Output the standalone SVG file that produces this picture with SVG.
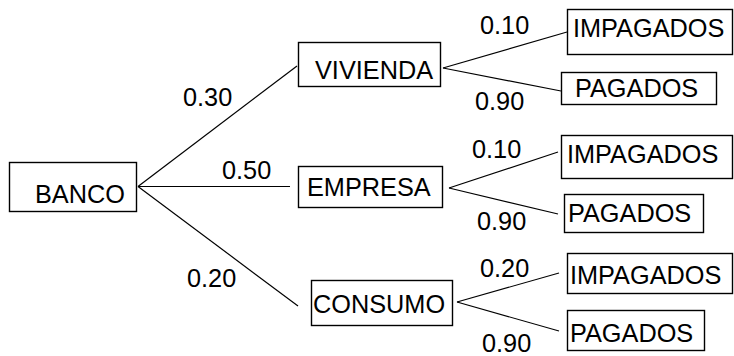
<svg xmlns="http://www.w3.org/2000/svg" width="734" height="356" viewBox="0 0 734 356">
<style>
rect{fill:#fff;stroke:#000;stroke-width:1.4}
text{font-family:"Liberation Sans",Arial,sans-serif;font-size:25.3px;fill:#000}
.c line{stroke:#000;stroke-width:1.2}
</style>
<rect x="0" y="0" width="734" height="356" fill="#fff" style="stroke:none"/>
<g class="c" id="connectors">
<line x1="138" y1="186.5" x2="297" y2="66"/>
<line x1="138" y1="186.5" x2="290" y2="186.5"/>
<line x1="138" y1="186.5" x2="298" y2="306"/>
<line x1="443" y1="68" x2="567" y2="32"/>
<line x1="443" y1="68" x2="561" y2="91"/>
<line x1="449" y1="188" x2="558" y2="152"/>
<line x1="449" y1="188" x2="558" y2="214"/>
<line x1="457" y1="302" x2="559" y2="273"/>
<line x1="457" y1="302" x2="559" y2="331"/>
</g>
<g id="labels">
<text x="183" y="106">0.30</text>
<text x="222" y="179">0.50</text>
<text x="187" y="287">0.20</text>
<text x="480" y="34">0.10</text>
<text x="475" y="110">0.90</text>
<text x="472" y="158">0.10</text>
<text x="477" y="230">0.90</text>
<text x="480" y="277">0.20</text>
<text x="482" y="352">0.90</text>
</g>
<g id="banco"><rect x="9.5" y="162.5" width="127" height="49"/><text x="35" y="203">BANCO</text></g>
<g id="vivienda"><rect x="298.5" y="42.5" width="142" height="44"/><text x="315" y="79">VIVIENDA</text></g>
<g id="empresa"><rect x="298.5" y="166.5" width="144" height="41"/><text x="307" y="196">EMPRESA</text></g>
<g id="consumo"><rect x="311.5" y="280.5" width="141" height="45"/><text x="313" y="313">CONSUMO</text></g>
<g id="impagados1"><rect x="567.5" y="9.5" width="165" height="45"/><text x="573" y="37">IMPAGADOS</text></g>
<g id="pagados1"><rect x="561.5" y="72.5" width="155" height="32"/><text x="575" y="97">PAGADOS</text></g>
<g id="impagados2"><rect x="561.5" y="135.5" width="171" height="43"/><text x="567" y="163">IMPAGADOS</text></g>
<g id="pagados2"><rect x="564.5" y="194.5" width="139" height="38"/><text x="568" y="222">PAGADOS</text></g>
<g id="impagados3"><rect x="567.5" y="253.5" width="165" height="40"/><text x="570" y="284">IMPAGADOS</text></g>
<g id="pagados3"><rect x="567.5" y="310.5" width="137" height="40"/><text x="570" y="342">PAGADOS</text></g>
</svg>
